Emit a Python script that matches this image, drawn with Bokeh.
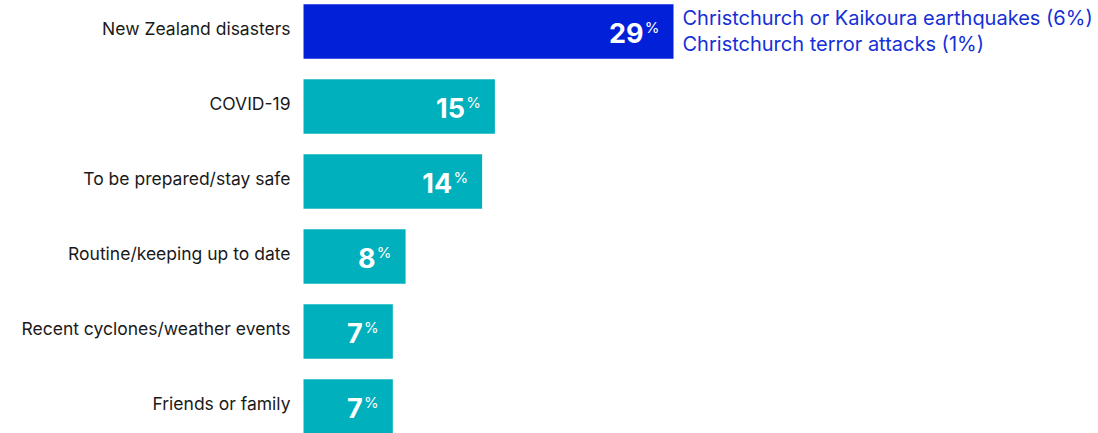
from bokeh.plotting import figure
from bokeh.models import ColumnDataSource, Range1d
from bokeh.core.properties import value
from bokeh.embed import file_html
from bokeh.resources import INLINE

# ---- data ----
categories = [
    "New Zealand disasters",
    "COVID-19",
    "To be prepared/stay safe",
    "Routine/keeping up to date",
    "Recent cyclones/weather events",
    "Friends or family",
]
values = [29, 15, 14, 8, 7, 7]
bar_colors = ["#0220d8", "#00b0bc", "#00b0bc", "#00b0bc", "#00b0bc", "#00b0bc"]
note_lines = [
    "Christchurch or Kaikoura earthquakes (6%)",
    "Christchurch terror attacks (1%)",
]

n = len(categories)
ypos = [n - 1 - i for i in range(n)]

FONT = value("Inter")

p = figure(
    width=1098, height=433, output_backend="svg", toolbar_location=None,
    x_range=Range1d(-23.75, 62.31), y_range=Range1d(-0.36, 5.413),
    min_border=0,
)
p.axis.visible = False
p.grid.visible = False
p.outline_line_color = None

src = ColumnDataSource(dict(
    y=ypos, v=values, c=bar_colors, cat=categories,
    num=[str(v) for v in values], pct=["%"] * n,
))

p.hbar(y="y", left=0, right="v", height=0.727, fill_color="c",
       line_color=None, source=src)

p.text(x=0, y="y", text="cat", source=src, x_offset=-13, y_offset=-3,
       text_align="right", text_baseline="alphabetic", text_font=FONT,
       text_font_size="17.5px", text_color="#1a1a1a")

p.text(x="v", y="y", text="num", source=src, x_offset=-30, y_offset=2,
       text_align="right", text_baseline="alphabetic", text_font=FONT,
       text_font_size="27px", text_font_style="bold", text_color="white")

p.text(x="v", y="y", text="pct", source=src, x_offset=-14, y_offset=-3.5,
       text_align="right", text_baseline="alphabetic", text_font=FONT,
       text_font_size="15px", text_color="white")

note_src = ColumnDataSource(dict(
    x=[values[0]] * len(note_lines), y=[ypos[0]] * len(note_lines),
    t=note_lines, off=[-13, 13],
))
p.text(x="x", y="y", text="t", source=note_src, x_offset=9, y_offset="off",
       text_align="left", text_baseline="alphabetic", text_font=FONT,
       text_font_size="20px", text_color="#1530d6")

open("out.html", "w").write(file_html(p, INLINE))
